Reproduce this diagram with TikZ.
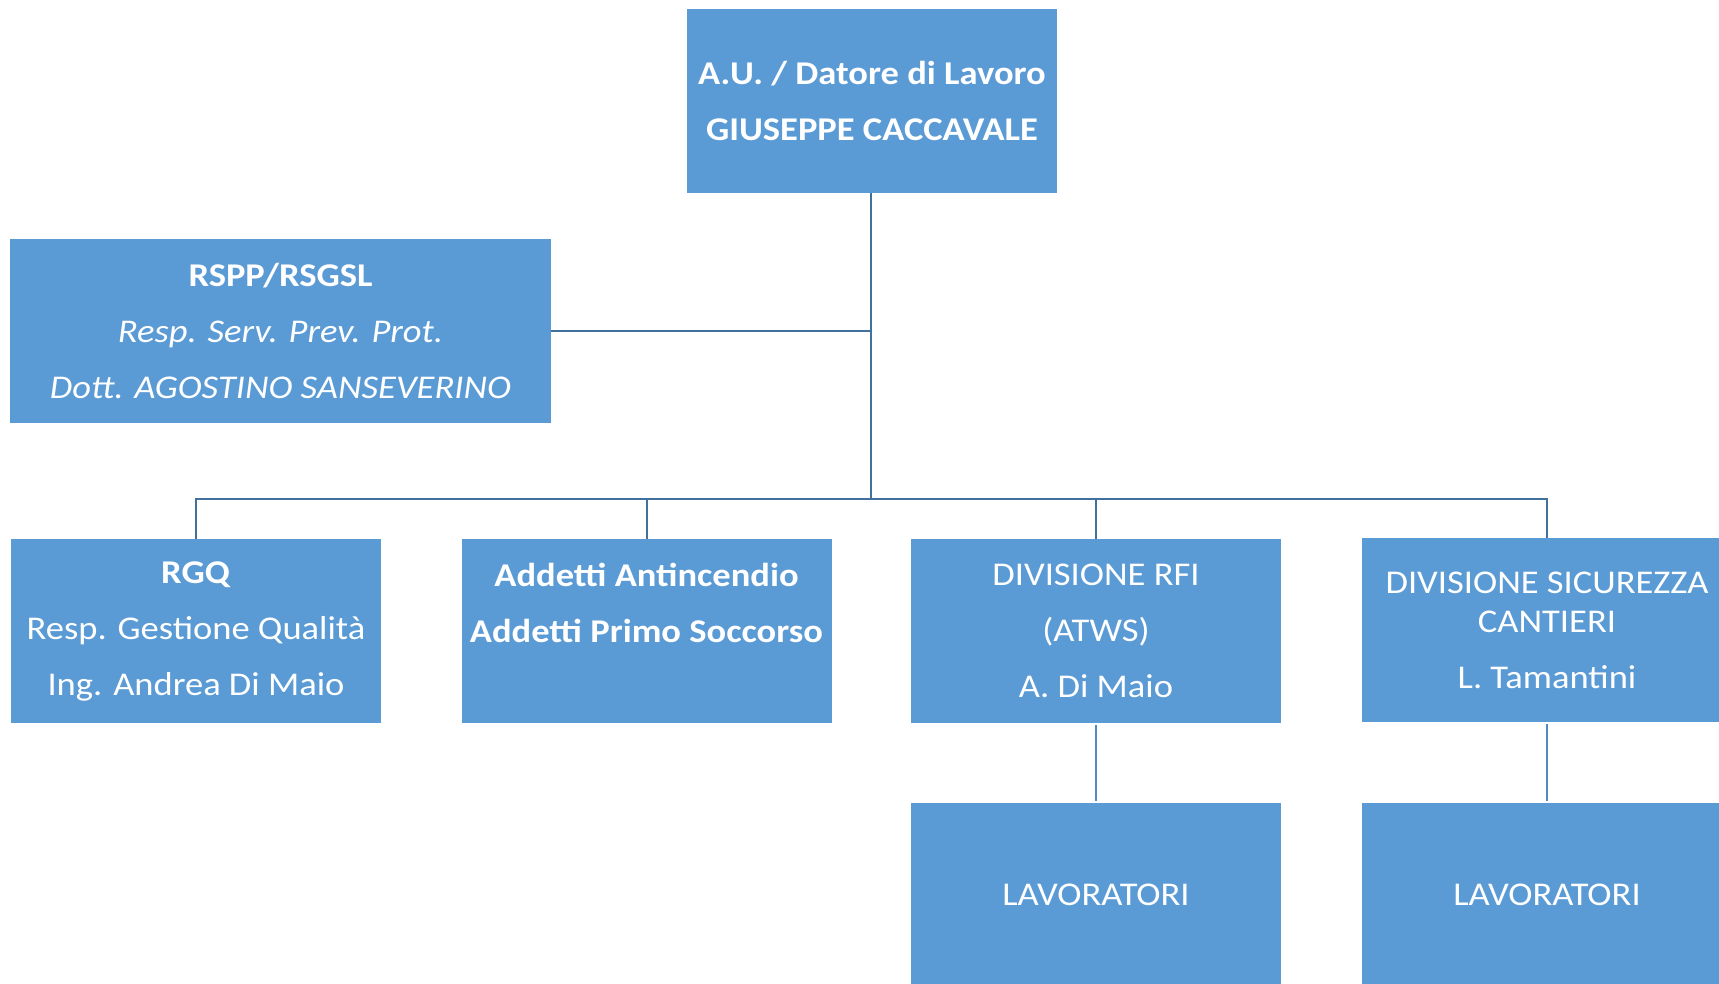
\documentclass[tikz,border=0pt]{standalone}
\usepackage{fontspec}
\setmainfont[FakeStretch=1.1]{Carlito}
\usetikzlibrary{calc}
\definecolor{boxblue}{HTML}{5B9BD5}
\definecolor{linkblue}{HTML}{41719C}

\begin{document}
\begin{tikzpicture}[
            x=0.5pt, y=-0.5pt,
            OrgBox/.style={fill=boxblue, text=white, minimum width=185pt, minimum height=92pt,
                inner sep=0pt, outer sep=0pt, align=center,
                font=\fontsize{16.6}{28}\selectfont},
            Link/.style={draw=linkblue, line width=1pt},
            SubLink/.style={draw=boxblue!90!black, line width=1.3pt, shorten <=1pt, shorten >=1pt},
            ]
            \path[use as bounding box] (0,0) rectangle (1719,984);
            \clip (0,0) rectangle (1719,984);

            \node [OrgBox] (au) at (872,101) {\textbf{A.U. / Datore di Lavoro}\\\textbf{GIUSEPPE CACCAVALE}};
            \node [OrgBox, minimum width=270.5pt] (rspp) at (280.5,331)
                {\textbf{RSPP/RSGSL}\\\textit{Resp. Serv. Prev. Prot.}\\\textit{Dott. AGOSTINO SANSEVERINO}};

            \node [OrgBox] (rgq) at (196,631) {\textbf{RGQ}\\Resp. Gestione Qualità\\Ing. Andrea Di Maio};
            \node [OrgBox] (addetti) at (646.5,631) {\textbf{Addetti Antincendio}\\\textbf{Addetti Primo Soccorso}\\~};
            \node [OrgBox] (rfi) at (1096,631) {DIVISIONE RFI\\(ATWS)\\A. Di Maio};
            \node [OrgBox] (sicurezza) at (1547,630) {DIVISIONE SICUREZZA\\[-8.5pt]CANTIERI\\L. Tamantini};

            \node [OrgBox, text depth=0pt] (lav1) at (1096,895) {LAVORATORI};
            \node [OrgBox, text depth=0pt] (lav2) at (1547,895) {LAVORATORI};

            \coordinate (bus) at (871,499);

            \draw[Link] (au.south -| bus) -- (bus);
            \draw[Link] (rspp.east) -- (rspp.east -| bus);
            \draw[Link] (rgq.north) |- (bus) -| (sicurezza.north);
            \draw[Link] (addetti.north) -- (addetti.north |- bus);
            \draw[Link] (rfi.north) -- (rfi.north |- bus);

            \draw[SubLink] (rfi) -- (lav1);
            \draw[SubLink] (sicurezza) -- (lav2);

        \end{tikzpicture}
\end{document}
